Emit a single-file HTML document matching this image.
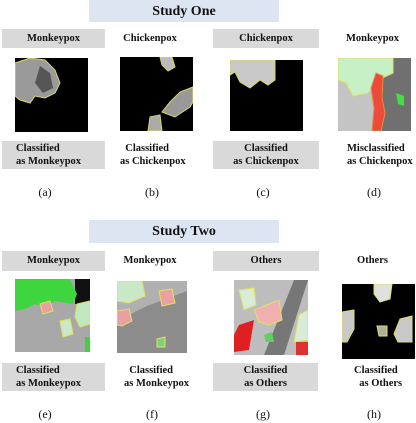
<!DOCTYPE html>
<html><head><meta charset="utf-8"><style>
body{margin:0;width:416px;height:423px;background:#fff;position:relative;overflow:hidden;font-family:"Liberation Serif",serif;}
.a{position:absolute;}
.banner{background:#dde4f2;font-weight:bold;font-size:14px;text-align:center;color:#111;}
.box{background:#d9d9d9;}
.lbl{font-weight:bold;font-size:10.5px;color:#111;text-align:center;}
.cap{font-size:12px;color:#111;text-align:center;width:40px;}
svg{position:absolute;}
</style></head><body>
<div class="a banner" style="left:89px;top:0;width:190px;height:22px;line-height:24px;">Study One</div>
<div class="a box lbl" style="left:2px;top:29px;width:103px;height:19px;line-height:19px;">Monkeypox</div>
<div class="a lbl" style="left:110px;top:29px;width:80px;height:19px;line-height:19px;">Chickenpox</div>
<div class="a box lbl" style="left:213px;top:29px;width:106px;height:19px;line-height:19px;">Chickenpox</div>
<div class="a lbl" style="left:335px;top:29px;width:75px;height:19px;line-height:19px;">Monkeypox</div>

<svg style="left:15px;top:58px" width="73" height="74"><rect width="73" height="74" fill="#000"/><path d="M0 5 L15 0 L30 2 L40 12 L45 25 L40 35 L30 40 L20 38 L15 45 L5 42 L0 38Z" fill="#9a9a9a" stroke="#d8d860" stroke-width="1"/><path d="M25 8 L35 15 L38 30 L28 35 L20 25Z" fill="#555"/></svg>
<svg style="left:120px;top:57px" width="73" height="74"><rect width="73" height="74" fill="#000"/><path d="M40 0 L52 0 L55 10 L48 14 L42 8Z" fill="#bbb" stroke="#d8d860"/><path d="M73 30 L60 35 L50 45 L42 55 L55 60 L70 50 L73 45Z" fill="#999" stroke="#d8d860"/><path d="M30 60 L40 58 L42 74 L28 74Z" fill="#aaa" stroke="#d8d860"/></svg>
<svg style="left:230px;top:60px" width="73" height="71"><rect width="73" height="71" fill="#000"/><path d="M0 0 L45 0 L45 20 L38 25 L30 20 L20 28 L10 22 L5 12 L0 15Z" fill="#c8c8c8" stroke="#d8d860"/></svg>
<svg style="left:338px;top:58px" width="73" height="73"><rect width="73" height="73" fill="#c4c4c4"/><path d="M45 0 L73 0 L73 73 L40 73 L45 30Z" fill="#707070"/><path d="M0 0 L55 0 L55 15 L40 22 L30 35 L15 38 L8 25 L0 22Z" fill="#c6f0c6" stroke="#e0e060"/><path d="M38 15 L45 18 L44 40 L47 55 L43 73 L34 73 L36 50 L33 30Z" fill="#ee4a3a" stroke="#e09040"/><path d="M58 35 L66 38 L66 48 L60 46Z" fill="#40e040"/></svg>

<div class="a box lbl" style="left:2px;top:141px;width:103px;height:28px;"><div style="position:absolute;left:14px;top:1px;line-height:13px;text-align:left">Classified<br>as Monkeypox</div></div>
<div class="a lbl" style="left:120px;top:142px;line-height:13px;text-align:left">&nbsp;&nbsp;Classified<br>as Chickenpox</div>
<div class="a box lbl" style="left:213px;top:141px;width:106px;height:28px;line-height:13px;padding-top:1px;box-sizing:border-box;">Classified<br>as Chickenpox</div>
<div class="a lbl" style="left:347px;top:142px;line-height:13px;text-align:left">Misclassified<br>as Chickenpox</div>

<div class="a cap" style="left:25px;top:185px">(a)</div>
<div class="a cap" style="left:132px;top:185px">(b)</div>
<div class="a cap" style="left:243px;top:185px">(c)</div>
<div class="a cap" style="left:354px;top:185px">(d)</div>

<div class="a banner" style="left:89px;top:220px;width:190px;height:23px;line-height:24px;">Study Two</div>
<div class="a box lbl" style="left:2px;top:251px;width:103px;height:20px;line-height:20px;">Monkeypox</div>
<div class="a lbl" style="left:110px;top:251px;width:80px;height:20px;line-height:20px;">Monkeypox</div>
<div class="a box lbl" style="left:213px;top:251px;width:106px;height:20px;line-height:20px;">Others</div>
<div class="a lbl" style="left:335px;top:251px;width:75px;height:20px;line-height:20px;">Others</div>

<svg style="left:15px;top:279px" width="75" height="73"><rect width="75" height="73" fill="#a8a8a8"/><rect x="60" width="15" height="25" fill="#111"/><path d="M0 0 L55 0 L62 15 L58 25 L40 22 L30 28 L20 25 L10 30 L0 32Z" fill="#3fd53f"/><path d="M25 25 L35 22 L38 32 L28 35Z" fill="#e8a0a0" stroke="#e0e060"/><path d="M62 25 L75 22 L75 45 L65 48 L60 38Z" fill="#bfe8bf" stroke="#e0e060"/><path d="M45 42 L55 40 L58 55 L48 58Z" fill="#cce8cc" stroke="#e0e060"/><rect x="70" y="58" width="5" height="15" fill="#40d040"/></svg>
<svg style="left:117px;top:281px" width="70" height="72"><rect width="70" height="72" fill="#8c8c8c"/><path d="M0 0 L70 0 L70 10 L30 25 L0 40Z" fill="#b0b0b0"/><path d="M0 0 L25 0 L28 15 L12 22 L0 20Z" fill="#c8e8c8" stroke="#e0e060"/><path d="M42 10 L55 8 L58 22 L45 25Z" fill="#e8a0a0" stroke="#e0e060"/><path d="M0 30 L12 28 L15 40 L5 45 L0 44Z" fill="#e8a0a0" stroke="#e0e060"/><path d="M40 58 L48 56 L48 66 L40 66Z" fill="#80d080" stroke="#e0e060"/></svg>
<svg style="left:234px;top:280px" width="74" height="75"><rect width="74" height="75" fill="#bdbdbd"/><path d="M30 75 L60 0 L74 0 L50 75Z" fill="#777"/><path d="M5 10 L20 8 L22 25 L10 30Z" fill="#d8ecd8" stroke="#e0e060"/><path d="M20 30 L45 20 L48 40 L35 45 L25 42Z" fill="#f0b0b0" stroke="#e0e060"/><path d="M5 45 L20 40 L15 70 L0 72 L0 55Z" fill="#e02020"/><path d="M65 35 L74 30 L74 60 L60 62Z" fill="#d8ecd8" stroke="#e0e060"/><rect x="62" y="62" width="12" height="13" fill="#e03030"/><path d="M30 55 L38 52 L40 62 L32 62Z" fill="#60d060"/></svg>
<svg style="left:342px;top:284px" width="73" height="75"><rect width="73" height="75" fill="#000"/><path d="M32 0 L50 0 L48 15 L38 18 L32 10Z" fill="#e0e0e0" stroke="#e0e060"/><path d="M0 28 L12 26 L12 45 L5 58 L0 58Z" fill="#c8c8c8" stroke="#e0e060"/><path d="M35 42 L45 42 L45 52 L37 52Z" fill="#b0b0a0" stroke="#e0e060"/><path d="M58 35 L70 32 L70 58 L56 58 L52 50Z" fill="#c8c8c8" stroke="#e0e060"/></svg>

<div class="a box lbl" style="left:2px;top:363px;width:103px;height:28px;"><div style="position:absolute;left:14px;top:1px;line-height:13px;text-align:left">Classified<br>as Monkeypox</div></div>
<div class="a lbl" style="left:124px;top:364px;line-height:13px;text-align:left">&nbsp;&nbsp;Classified<br>as Monkeypox</div>
<div class="a box lbl" style="left:213px;top:363px;width:105px;height:28px;line-height:13px;padding-top:1px;box-sizing:border-box;">Classified<br>as Others</div>
<div class="a lbl" style="left:354px;top:364px;line-height:13px;text-align:left">Classified<br>&nbsp;&nbsp;as Others</div>

<div class="a cap" style="left:25px;top:407px">(e)</div>
<div class="a cap" style="left:132px;top:407px">(f)</div>
<div class="a cap" style="left:243px;top:407px">(g)</div>
<div class="a cap" style="left:354px;top:407px">(h)</div>
</body></html>
